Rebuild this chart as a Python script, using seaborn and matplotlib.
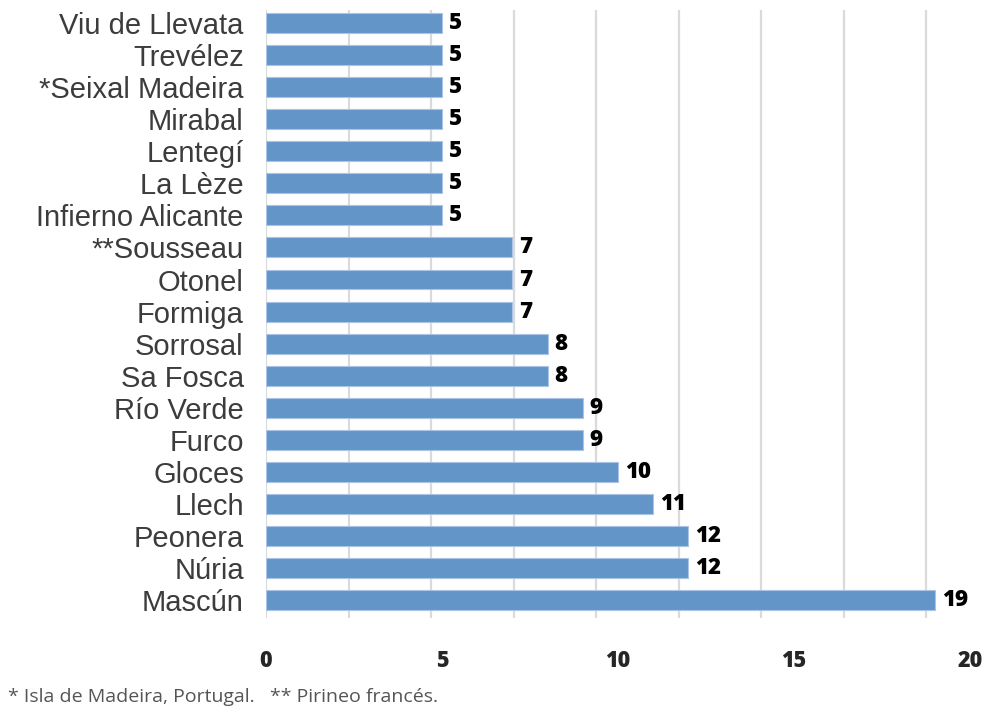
import pandas as pd
import seaborn as sns
import matplotlib.pyplot as plt
from matplotlib.ticker import MultipleLocator

# datos
lugares = ['Viu de Llevata', 'Trevélez', '*Seixal Madeira', 'Mirabal', 'Lentegí',
           'La Lèze', 'Infierno Alicante', '**Sousseau', 'Otonel', 'Formiga',
           'Sorrosal', 'Sa Fosca', 'Río Verde', 'Furco', 'Gloces', 'Llech',
           'Peonera', 'Núria', 'Mascún']
valores = [5, 5, 5, 5, 5, 5, 5, 7, 7, 7, 8, 8, 9, 9, 10, 11, 12, 12, 19]
ticks_x = [0, 5, 10, 15, 20]
nota = '* Isla de Madeira, Portugal.   ** Pirineo francés.'

df = pd.DataFrame({'lugar': lugares, 'valor': valores})

sns.set_style('white')
plt.rcParams['font.family'] = ['Liberation Sans', 'DejaVu Sans']

fig = plt.figure(figsize=(9.98, 7.07), dpi=100)
ax = fig.add_axes([266 / 998, 1 - 618 / 707, 1 - 266 / 998, (618 - 10) / 707])

sns.barplot(data=df, x='valor', y='lugar', orient='h', color='#6495c9',
            saturation=1, width=0.62, edgecolor='#a9c4e4', linewidth=0.8, ax=ax)

# etiquetas de valor
for i, v in enumerate(valores):
    ax.text(v + 0.2, i, str(v), va='center', ha='left', fontsize=16,
            fontweight='heavy', color='black', family=['Open Sans', 'DejaVu Sans'])

ax.set_xlim(0, (998 - 266) / 35.2)
ax.set_ylim(18.55, -0.4)
ax.set_xticks(ticks_x)
ax.xaxis.set_minor_locator(MultipleLocator(2.345))
ax.grid(False)
ax.grid(True, axis='x', which='minor', color='#dadada', linewidth=1.6)
ax.set_axisbelow(True)
ax.axvline(0, color='#dadada', linewidth=1.6, zorder=0)

for s in ax.spines.values():
    s.set_visible(False)

ax.tick_params(axis='x', which='both', length=0, pad=22)
ax.tick_params(axis='y', length=0, pad=16)
for lab in ax.get_xticklabels():
    lab.set_fontsize(15.5)
    lab.set_fontweight('heavy')
    lab.set_family(['Open Sans', 'DejaVu Sans'])
for lab in ax.get_yticklabels():
    lab.set_fontsize(21)
    lab.set_color('#3c3c3c')
ax.set_xlabel('')
ax.set_ylabel('')

fig.text(8 / 998, 1 - 697 / 707, nota, fontsize=14, color='#555555',
         va='center', ha='left', family=['Open Sans', 'DejaVu Sans'])

plt.savefig('out.png', dpi=100)
